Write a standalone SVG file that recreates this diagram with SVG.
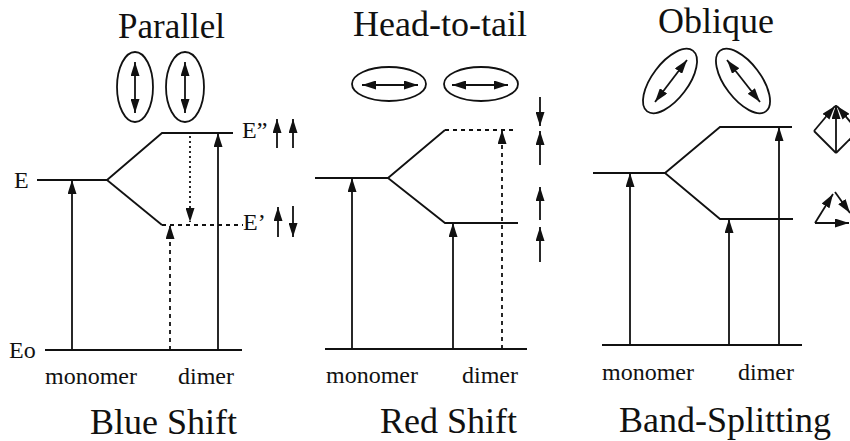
<svg xmlns="http://www.w3.org/2000/svg" width="850" height="441" viewBox="0 0 850 441">
<style>
  text { font-family: 'Liberation Serif', 'DejaVu Serif', 'Times New Roman', Times, serif; fill: #111; }
  .title { font-size: 36px; }
  .lab { font-size: 24px; }
  .ln { stroke: #111; stroke-width: 1.8; fill: none; }
  .dash { stroke-dasharray: 4 4; }
  .dot { stroke-dasharray: 2 3; }
  .arr { marker-end: url(#ah); }
  .arr2 { marker-start: url(#ah); marker-end: url(#ah); }
  .ell { stroke: #111; stroke-width: 1.8; fill: none; }
</style>
<defs>
  <marker id="ah" viewBox="0 0 14 9" refX="14" refY="4.5" markerWidth="14" markerHeight="9" markerUnits="userSpaceOnUse" orient="auto-start-reverse">
    <path d="M0,0 L14,4.5 L0,9 z" fill="#111"/>
  </marker>
</defs>
<rect width="850" height="441" fill="#fff"/>

<!-- Panel 1: Parallel -->
<g id="parallel">
  <text class="title" x="118" y="38" style="font-size:35px">Parallel</text>
  <g id="parallel-dipoles">
    <ellipse class="ell" cx="135" cy="87" rx="18" ry="35"/>
    <ellipse class="ell" cx="185" cy="87" rx="19" ry="35"/>
    <line class="ln arr2" x1="135" y1="62" x2="135" y2="113"/>
    <line class="ln arr2" x1="185" y1="62" x2="185" y2="113"/>
  </g>
  <g id="parallel-levels">
    <polyline class="ln" points="37,180 107,180 162,133 233,133"/>
    <polyline class="ln" points="107,180 162,225"/>
    <line class="ln dash" x1="162" y1="225" x2="243" y2="225"/>
    <line class="ln" x1="45" y1="350" x2="242" y2="350"/>
  </g>
  <g id="parallel-labels">
    <text class="lab" x="14" y="188">E</text>
    <text class="lab" x="9" y="358">Eo</text>
    <text class="lab" x="242" y="138">E”</text>
    <text class="lab" x="243" y="230">E’</text>
    <text class="lab" x="45" y="384">monomer</text>
    <text class="lab" x="178" y="384">dimer</text>
    <text class="title" x="90" y="434">Blue Shift</text>
  </g>
</g>

<!-- Panel 2: Head-to-tail -->
<g id="head-to-tail">
  <text class="title" x="353" y="36">Head-to-tail</text>
  <g id="htt-dipoles">
    <ellipse class="ell" cx="389" cy="84" rx="37" ry="17"/>
    <ellipse class="ell" cx="481" cy="84" rx="37" ry="17"/>
    <line class="ln arr2" x1="362" y1="85" x2="418" y2="85"/>
    <line class="ln arr2" x1="452" y1="85" x2="508" y2="85"/>
  </g>
  <g id="htt-levels">
    <polyline class="ln" points="315,178 388,178 445,130"/>
    <line class="ln dash" x1="445" y1="130" x2="517" y2="130"/>
    <polyline class="ln" points="388,178 445,223 518,223"/>
    <line class="ln" x1="325" y1="349" x2="527" y2="349"/>
  </g>
  <g id="htt-labels">
    <text class="lab" x="326" y="383">monomer</text>
    <text class="lab" x="462" y="383">dimer</text>
    <text class="title" x="380" y="433">Red Shift</text>
  </g>
</g>

<!-- Panel 3: Oblique -->
<g id="oblique">
  <text class="title" x="658" y="33">Oblique</text>
  <g id="obl-dipoles">
    <ellipse class="ell" cx="670" cy="81" rx="38" ry="18" transform="rotate(-53 670 81)"/>
    <ellipse class="ell" cx="743" cy="81" rx="38" ry="18" transform="rotate(53 743 81)"/>
    <line class="ln arr2" x1="655" y1="102" x2="687" y2="60"/>
    <line class="ln arr2" x1="727" y1="60" x2="760" y2="102"/>
  </g>
  <g id="obl-levels">
    <polyline class="ln" points="593,173 665,173 720,127 792,127"/>
    <polyline class="ln" points="665,173 720,219 793,219"/>
    <line class="ln" x1="602" y1="345" x2="802" y2="345"/>
  </g>
  <g id="obl-vectors">
    <polyline class="ln" points="836,153 814,131"/>
    <line class="ln arr" x1="814" y1="131" x2="835" y2="106"/>
    <polyline class="ln" points="836,153 858,131"/>
    <line class="ln arr" x1="858" y1="131" x2="837" y2="106"/>
    <line class="ln arr" x1="836" y1="153" x2="836" y2="105"/>
    <line class="ln arr" x1="815" y1="223" x2="833" y2="194"/>
    <line class="ln arr" x1="835" y1="192" x2="850" y2="213"/>
    <line class="ln arr" x1="815" y1="223" x2="849" y2="223"/>
  </g>
  <g id="obl-labels">
    <text class="lab" x="602" y="380">monomer</text>
    <text class="lab" x="738" y="380">dimer</text>
    <text class="title" x="619" y="432">Band-Splitting</text>
  </g>
</g>

<!-- Connectors: transition arrows -->
<g id="connectors">
  <!-- Parallel -->
  <line class="ln arr" x1="72" y1="350" x2="72" y2="180"/>
  <line class="ln arr" x1="218" y1="350" x2="218" y2="133"/>
  <line class="ln dash arr" x1="170" y1="350" x2="170" y2="225"/>
  <line class="ln dot arr" x1="190" y1="136" x2="190" y2="222"/>
  <line class="ln arr" x1="277" y1="148" x2="277" y2="119"/>
  <line class="ln arr" x1="293" y1="148" x2="293" y2="119"/>
  <line class="ln arr" x1="278" y1="237" x2="278" y2="207"/>
  <line class="ln arr" x1="293" y1="206" x2="293" y2="237"/>
  <!-- Head-to-tail -->
  <line class="ln arr" x1="540" y1="97" x2="540" y2="126"/>
  <line class="ln arr" x1="540" y1="165" x2="540" y2="131"/>
  <line class="ln arr" x1="540" y1="220" x2="540" y2="187"/>
  <line class="ln arr" x1="540" y1="262" x2="540" y2="227"/>
  <line class="ln arr" x1="352" y1="349" x2="352" y2="178"/>
  <line class="ln arr" x1="453" y1="349" x2="453" y2="223"/>
  <line class="ln dash arr" x1="502" y1="349" x2="502" y2="130"/>
  <!-- Oblique -->
  <line class="ln arr" x1="630" y1="345" x2="630" y2="173"/>
  <line class="ln arr" x1="729" y1="345" x2="729" y2="219"/>
  <line class="ln arr" x1="779" y1="345" x2="779" y2="127"/>
</g>
</svg>
